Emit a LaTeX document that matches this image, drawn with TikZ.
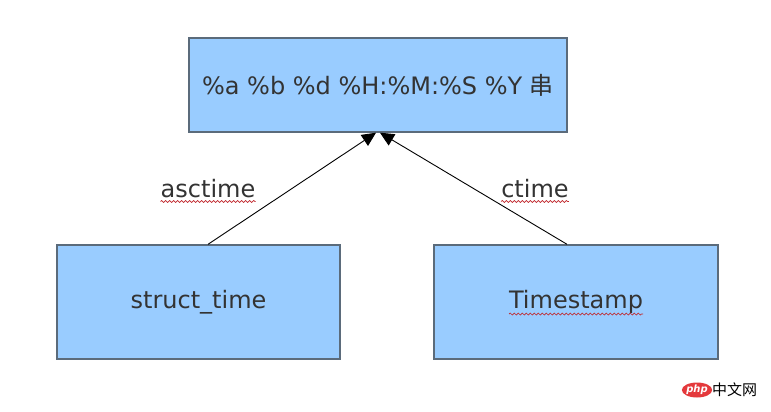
\documentclass[tikz,border=0pt]{standalone}
\usepackage{fontspec}
\setmainfont{DejaVu Sans}
\newfontfamily\cjk{Noto Sans CJK SC}
\usetikzlibrary{arrows.meta,decorations.pathmorphing,shapes.geometric}
\definecolor{boxfill}{HTML}{99CCFF}
\definecolor{boxline}{HTML}{5B6B7B}
\definecolor{txt}{HTML}{333333}
\definecolor{squigc}{HTML}{C0282D}
\definecolor{phpred}{HTML}{E4393C}
\tikzset{
  box/.style={draw=boxline, line width=1.4pt, fill=boxfill, rectangle, text=txt,
    font=\fontsize{24}{28}\selectfont, inner sep=0pt},
  lbl/.style={text=txt, font=\fontsize{24}{28}\selectfont, inner sep=0pt, anchor=base},
  conn/.style={line width=0.9pt, -{Triangle[length=14pt,width=13pt]}},
  squig/.style={squigc, line width=0.7pt, decorate,
    decoration={snake, amplitude=1pt, segment length=4pt}}
}
\begin{document}
\begin{tikzpicture}[x=1pt,y=-1pt]
\useasboundingbox (0,0) rectangle (771,412);
\node[box, minimum width=378pt, minimum height=94pt] (top) at (378,85)
  {\%a \%b \%d \%H:\%M:\%S \%Y {\cjk 串}};
\node[box, minimum width=283pt, minimum height=114pt] (st) at (198.5,302) {struct\_time};
\node[box, minimum width=284pt, minimum height=114pt] (ts) at (576,302) {Timestamp};
\node[lbl] (asc) at (208,197) {asctime};
\node[lbl] (ct) at (535,197) {ctime};
\draw[conn] ([xshift=9.5pt]st.north) -- ([xshift=-2pt]top.south);
\draw[conn] ([xshift=-9pt]ts.north) -- ([xshift=2pt]top.south);
\draw[squig] ([yshift=-4.5pt]asc.base west) -- ([yshift=-4.5pt]asc.base east);
\draw[squig] ([yshift=-4.5pt]ct.base west) -- ([yshift=-4.5pt]ct.base east);
\draw[squig] ([xshift=-67pt,yshift=-12pt]ts.center) -- ([xshift=67pt,yshift=-12pt]ts.center);
\node[ellipse, fill=phpred, minimum width=28pt, minimum height=15pt, inner sep=0pt,
  text=white, font=\bfseries\itshape\fontsize{10}{10}\selectfont] (php) at (697,390) {php};
\node[anchor=west, inner sep=0pt, font=\cjk\fontsize{15}{15}\selectfont] (cn) at (712,390) {中文网};
\end{tikzpicture}
\end{document}
